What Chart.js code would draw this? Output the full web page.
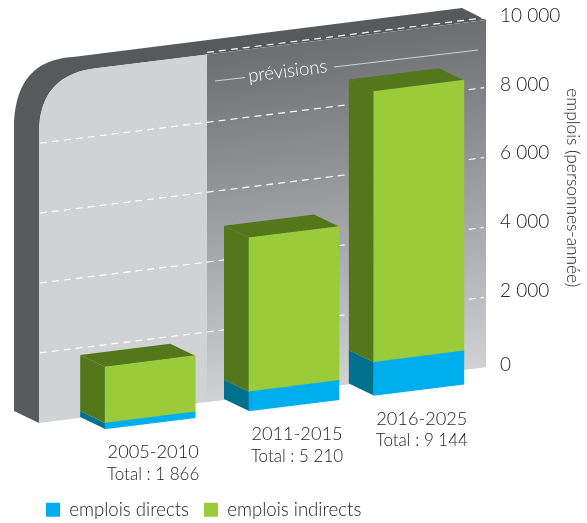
<!DOCTYPE html>
<html lang="fr">
<head>
<meta charset="utf-8">
<title>emplois (personnes-année)</title>
<script src="https://cdn.jsdelivr.net/npm/chart.js@4"></script>
<style>
  html, body { margin: 0; padding: 0; background: #fff; }
  #wrap { width: 587px; height: 523px; position: relative; }
</style>
</head>
<body>
<div id="wrap"><canvas id="chart"></canvas></div>
<script>
const periods = ['2005-2010', '2011-2015', '2016-2025'];
const totalLabels = ['Total : 1 866', 'Total : 5 210', 'Total : 9 144'];
const directJobs = [180, 580, 1000];
const indirectJobs = [1686, 4630, 8144];
const yTickLabels = { 0: '0', 2000: '2 000', 4000: '4 000', 6000: '6 000', 8000: '8 000', 10000: '10 000' };

const FONT = 'Lato, "Open Sans", sans-serif';
const TEXT = '#222222';

// the picture is a sheared pseudo 3D view
const SLOPE = -0.125;
const BAR_SCALE = 0.968;   // bars stand slightly in front of the back panel
const PANEL_SCALE = 1.0176;
const DEPTH_X = -25;
const DEPTH_Y = -12;
const middleBarShift = 9.5;  // the middle bar is not centred in its slot

// y position on the canvas of a scale pixel, in the plane of the bars
function barY(x, y, area) {
    return BAR_SCALE * (y - area.bottom) + SLOPE * (x - 105) + 429;
}

function panelY(x, y, area) {
    return PANEL_SCALE * (y - area.bottom) + SLOPE * (x - 486) + 367;
}

function frontPath(ctx) {
    ctx.beginPath();
    ctx.moveTo(39, 423);
    ctx.lineTo(486, 367);
    ctx.lineTo(486, 20);
    ctx.lineTo(98, 68);
    ctx.quadraticCurveTo(39, 74, 39, 133);
    ctx.closePath();
}

function drawPanel(ctx) {
    ctx.fillStyle = '#58595b';
    ctx.beginPath();
    ctx.moveTo(73, 57);
    ctx.lineTo(462, 8);
    ctx.lineTo(486, 20);
    ctx.lineTo(98, 68);
    ctx.quadraticCurveTo(39, 74, 39, 133);
    ctx.lineTo(39, 423);
    ctx.lineTo(14, 411);
    ctx.lineTo(14, 122);
    ctx.quadraticCurveTo(17, 60, 73, 57);
    ctx.closePath();
    ctx.fill();

    frontPath(ctx);
    ctx.fillStyle = '#d1d2d4';
    ctx.fill();

    ctx.save();
    frontPath(ctx);
    ctx.clip();
    const grad = ctx.createLinearGradient(486, 20, 530, 372);
    grad.addColorStop(0, '#6d6e71');
    grad.addColorStop(1, '#d3d4d6');
    ctx.fillStyle = grad;
    ctx.fillRect(207, 0, 280, 430);
    ctx.restore();
}

function drawGrid(ctx, chart) {
    const y = chart.scales.y;
    const area = chart.chartArea;
    ctx.save();
    ctx.strokeStyle = '#ffffff';
    ctx.lineWidth = 1.2;
    ctx.setLineDash([7, 5]);
    y.ticks.forEach(t => {
        if (t.value === 0) return;
        const px = y.getPixelForValue(t.value);
        const x0 = t.value === y.max ? 207 : 40;
        ctx.beginPath();
        ctx.moveTo(x0, panelY(x0, px, area));
        ctx.lineTo(484, panelY(484, px, area));
        ctx.stroke();
    });
    ctx.restore();
}

function drawForecastNote(ctx) {
    ctx.save();
    ctx.strokeStyle = '#d1d2d4';
    ctx.lineWidth = 1;
    ctx.beginPath();
    ctx.moveTo(215, 81);
    ctx.lineTo(245, 77.5);
    ctx.moveTo(334, 67);
    ctx.lineTo(478, 50);
    ctx.stroke();
    ctx.translate(249, 82);
    ctx.rotate(Math.atan(SLOPE));
    ctx.fillStyle = '#ffffff';
    ctx.font = '300 18.5px ' + FONT;
    ctx.textAlign = 'left';
    ctx.textBaseline = 'alphabetic';
    ctx.fillText('prévisions', 0, 0);
    ctx.restore();
}

function fillPoly(ctx, points, color) {
    ctx.fillStyle = color;
    ctx.beginPath();
    points.forEach((p, i) => (i ? ctx.lineTo(p[0], p[1]) : ctx.moveTo(p[0], p[1])));
    ctx.closePath();
    ctx.fill();
}

function drawBarDepth(ctx, chart) {
    const area = chart.chartArea;
    const sideColors = ['#00708c', '#55771c'];
    chart.data.datasets.forEach((ds, d) => {
        chart.getDatasetMeta(d).data.forEach(el => {
            const left = el.x - el.width / 2;
            const right = el.x + el.width / 2;
            const top = barY(left, el.y, area);
            const bottom = barY(left, el.base, area);
            fillPoly(ctx, [
                [left, top], [left, bottom],
                [left + DEPTH_X, bottom + DEPTH_Y], [left + DEPTH_X, top + DEPTH_Y]
            ], sideColors[d]);
            if (d === chart.data.datasets.length - 1) {
                const topRight = barY(right, el.y, area);
                fillPoly(ctx, [
                    [left, top], [right, topRight],
                    [right + DEPTH_X, topRight + DEPTH_Y], [left + DEPTH_X, top + DEPTH_Y]
                ], sideColors[d]);
            }
        });
    });
}

function drawPeriodLabels(ctx, chart) {
    const area = chart.chartArea;
    const bars = chart.getDatasetMeta(0).data;
    ctx.save();
    ctx.fillStyle = TEXT;
    ctx.textAlign = 'center';
    ctx.textBaseline = 'middle';
    bars.forEach((el, i) => {
        const x = el.x + 3;
        const y = barY(el.x, area.bottom, area);
        ctx.font = '300 18.2px ' + FONT;
        ctx.fillText(periods[i], x, y + 29);
        ctx.font = '300 17px ' + FONT;
        ctx.fillText(totalLabels[i], x, y + 51);
    });
    ctx.restore();
}

const shearPlugin = {
    id: 'shear',
    afterLayout(chart) {
        chart.legend.left = 31;
        chart.legend.top += 8;
    },
    afterDatasetsUpdate(chart) {
        chart.data.datasets.forEach((ds, d) => {
            chart.getDatasetMeta(d).data[1].x += middleBarShift;
        });
    },
    beforeDatasetsDraw(chart) {
        const ctx = chart.ctx;
        const area = chart.chartArea;
        drawPanel(ctx);
        drawGrid(ctx, chart);
        drawForecastNote(ctx);
        drawBarDepth(ctx, chart);
        // library bars go through the same shear
        ctx.save();
        const offset = 429 - BAR_SCALE * area.bottom - SLOPE * 105;
        ctx.transform(1, SLOPE, 0, BAR_SCALE, 0, offset);
    },
    afterDatasetsDraw(chart) {
        chart.ctx.restore();
        drawPeriodLabels(chart.ctx, chart);
    }
};

new Chart(document.getElementById('chart'), {
    type: 'bar',
    data: {
        labels: periods,
        datasets: [
            { label: 'emplois directs', data: directJobs, backgroundColor: '#00aeef', clip: false },
            { label: 'emplois indirects', data: indirectJobs, backgroundColor: '#99cb3b', clip: false }
        ]
    },
    options: {
        responsive: true,
        maintainAspectRatio: false,
        animation: false,
        barThickness: 90,
        layout: { padding: { left: 83, top: 16, right: 0, bottom: 2 } },
        plugins: {
            tooltip: { enabled: false },
            legend: {
                position: 'bottom',
                align: 'start',
                labels: {
                    boxWidth: 14,
                    boxHeight: 14,
                    padding: 15,
                    color: TEXT,
                    font: { family: FONT, size: 18.6, weight: '300' }
                }
            }
        },
        scales: {
            x: {
                stacked: true,
                grid: { display: false },
                border: { display: false },
                ticks: { display: false },
                afterFit(scale) { scale.height = 118; }
            },
            y: {
                stacked: true,
                position: 'right',
                min: 0,
                max: 10000,
                grid: { display: false, drawTicks: false },
                border: { display: false },
                ticks: {
                    stepSize: 2000,
                    padding: 14,
                    color: TEXT,
                    font: ctx => ({
                        family: FONT,
                        size: 19,
                        weight: '300',
                        lineHeight: ctx.tick && ctx.tick.value === 0 ? 0.6 : 1.2
                    }),
                    // the zero sits a little lower than the regular step
                    callback: value => (value === 0 ? ['', yTickLabels[0]] : yTickLabels[value])
                },
                title: {
                    display: true,
                    text: 'emplois (personnes-année)',
                    color: TEXT,
                    padding: { top: 4, bottom: 6 },
                    font: { family: FONT, size: 17.3, weight: '300' }
                },
                afterFit(scale) {
                    scale.width = 101;
                    scale.paddingTop = 0;
                    scale.paddingBottom = 0;
                }
            }
        }
    },
    plugins: [shearPlugin]
});
</script>
</body>
</html>
